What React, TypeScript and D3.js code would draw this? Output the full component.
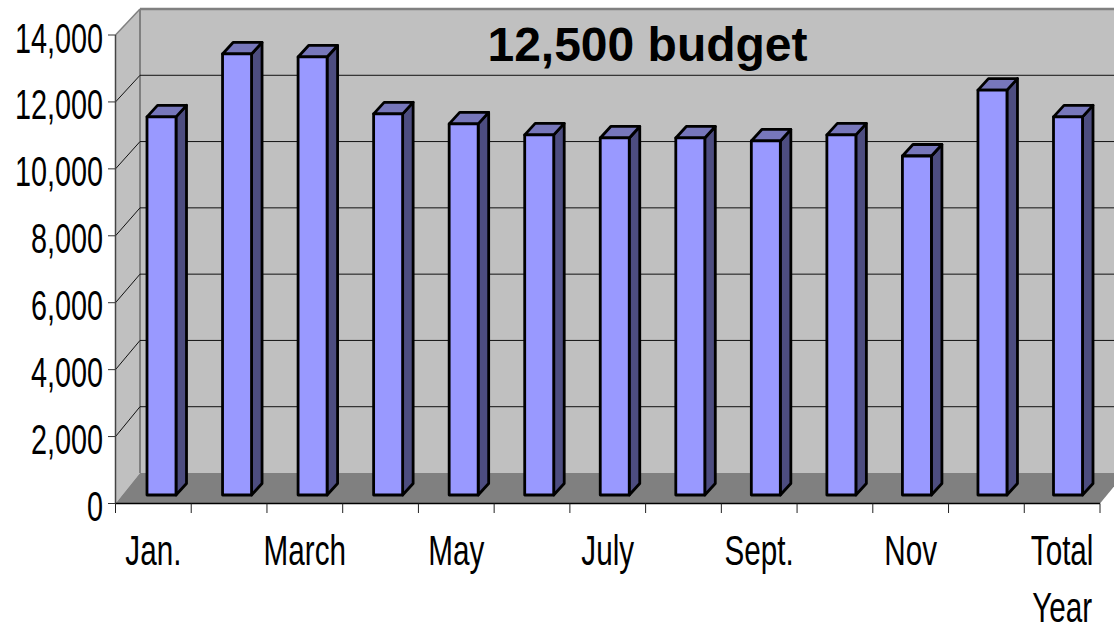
import React from "react";
import * as d3 from "d3";

const months = ["Jan.", "Feb", "March", "April", "May", "June", "July", "Aug", "Sept.", "Oct", "Nov", "Dec", "Total Year"];
const tickLabels = ["Jan.", "", "March", "", "May", "", "July", "", "Sept.", "", "Nov", "", "Total|Year"];
const values = [11300, 13180, 13090, 11390, 11090, 10760, 10670, 10670, 10580, 10760, 10130, 12100, 11300];
const yTicks = [0, 2000, 4000, 6000, 8000, 10000, 12000, 14000];
const title = "12,500 budget";

const FONT = "'Liberation Sans', Arial, sans-serif";
const DX = 25;
const x = d3.scaleBand<string>().domain(months).range([115.5, 1100]);
const xBar = d3.scalePoint<string>().domain(months).range([147, 1053.5]);
const yFront = d3.scaleLinear().domain([0, 14000]).range([503.5, 35]);
const yBack = d3.scaleLinear().domain([0, 14000]).range([473, 9]);
const yBar = d3.scaleLinear().domain([0, 14000]).range([495, 26.5]);
const fmt = d3.format(",");
const poly = (p: number[][]) => p.map((q) => q.join(",")).join(" ");

export default function App() {
  const x0 = 115.5, x1 = 1100, bx = x0 + 24.5;
  const barW = 29, depthX = 10.5, depthY = 11.5;
  return (
    <svg width={1114} height={627} style={{ position: "absolute", left: 0, top: 0, background: "#fff" }} fontFamily={FONT}>
      <polygon points={poly([[bx, 9], [1140, 9], [1140, 473], [bx, 473]])} fill="#c0c0c0" />
      <polygon points={poly([[x0, 35], [bx, 9], [bx, 473], [x0, 503.5]])} fill="#c0c0c0" />
      <polygon points={poly([[x0, 503.5], [bx, 473], [x1 + DX, 473], [x1, 503.5]])} fill="#808080" />
      <line x1={bx} x2={1114} y1={9} y2={9} stroke="#808080" strokeWidth={2.5} />
      <line x1={bx} x2={bx} y1={9} y2={473} stroke="#808080" strokeWidth={2} />
      <line x1={x0} x2={bx} y1={35} y2={9} stroke="#808080" strokeWidth={1.5} />
      {yTicks.filter((t) => t > 0 && t < 14000).map((t) => (
        <g key={t} fill="none" stroke="#111" strokeWidth={1}>
          <polyline points={poly([[x0, yFront(t)], [bx, yBack(t)], [1114, yBack(t)]])} />
        </g>
      ))}
      {values.map((v, i) => {
        const l = xBar(months[i])!;
        const r = l + barW;
        const t = yBar(v);
        const b = yBar(0);
        return (
          <g key={months[i]} stroke="#000" strokeWidth={2.8} strokeLinejoin="round">
            <polygon points={poly([[r, t], [r + depthX, t - depthY], [r + depthX, b - depthY], [r, b]])} fill="#4d4d80" />
            <polygon points={poly([[l, t], [l + depthX, t - depthY], [r + depthX, t - depthY], [r, t]])} fill="#7777bb" />
            <rect x={l} y={t} width={barW} height={b - t} fill="#9999ff" />
          </g>
        );
      })}
      <line x1={x0} x2={x0} y1={35} y2={503.5} stroke="#444" strokeWidth={1.5} />
      <line x1={x0} x2={x1} y1={503.5} y2={503.5} stroke="#000" strokeWidth={1.5} />
      {yTicks.map((t) => (
        <g key={t}>
          <line x1={108} x2={x0} y1={yFront(t)} y2={yFront(t)} stroke="#333" strokeWidth={1} />
          <text transform={`translate(103,${yFront(t) + 17.5}) scale(0.67,1)`} fontSize={43} textAnchor="end" fill="#000">{fmt(t)}</text>
        </g>
      ))}
      {months.map((m) => (
        <line key={m} x1={x(m)!} x2={x(m)!} y1={503.5} y2={513} stroke="#222" strokeWidth={1} />
      ))}
      <line x1={x1} x2={x1} y1={503.5} y2={513} stroke="#222" strokeWidth={1} />
      {tickLabels.map((lab, i) =>
        lab.split("|").map((part, k) => (
          <text key={`${i}-${k}`} transform={`translate(${x(months[i])! + x.bandwidth() / 2},${565 + k * 57}) scale(0.69,1)`} fontSize={43} textAnchor="middle" fill="#000">{part}</text>
        ))
      )}
      <text x={647.5} y={60.5} fontSize={48} fontWeight="bold" textAnchor="middle" fill="#000">{title}</text>
    </svg>
  );
}
